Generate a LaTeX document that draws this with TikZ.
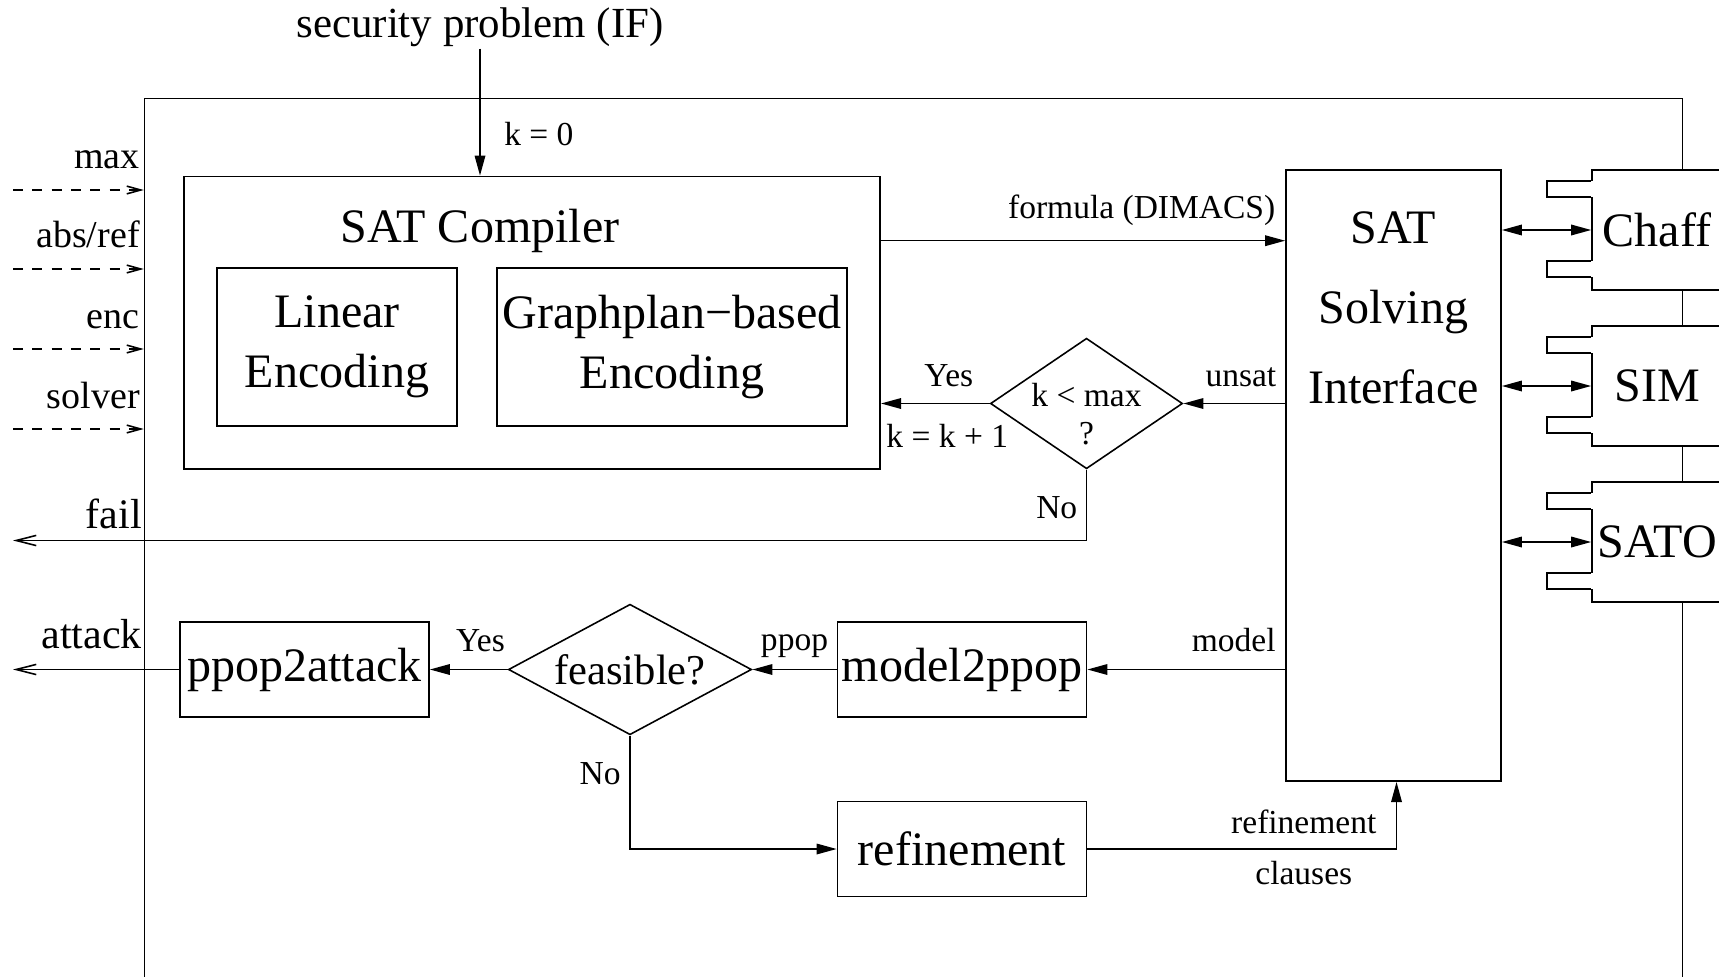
\documentclass[tikz,border=0pt]{standalone}
\usepackage{fontspec}
\setmainfont{Liberation Serif}
\usetikzlibrary{arrows.meta,shapes.geometric,positioning}
\newcommand{\fbig}{\fontsize{13.66pt}{17pt}\selectfont}
\newcommand{\fsec}{\fontsize{12.2pt}{14pt}\selectfont}
\newcommand{\fout}{\fontsize{11.95pt}{14pt}\selectfont}
\newcommand{\fin}{\fontsize{10.8pt}{13pt}\selectfont}
\newcommand{\fsmall}{\fontsize{9.53pt}{10.8pt}\selectfont}
\newcommand{\ffeas}{\fontsize{12.1pt}{14pt}\selectfont}

\begin{document}
\begin{tikzpicture}[
  x=0.01cm, y=-0.01cm,
  line width=0.45pt,
  >={Triangle[length=5.7pt,width=3pt]},
  block/.style={draw,rectangle,inner sep=1pt,font=\fbig,align=center},
  decision/.style={draw,diamond,inner sep=0pt},
  solverbox/.style={draw,fill=white,rectangle,minimum width=1.3cm,minimum height=1.2cm,font=\fbig,inner sep=0pt},
  lbl/.style={font=\fsmall,inner sep=1pt},
  inlbl/.style={font=\fin,inner sep=1pt,anchor=base east},
  outlbl/.style={font=\fout,inner sep=1pt,anchor=base east},
  inarrow/.style={dash pattern=on 2.8pt off 2.7pt,-{Straight Barb[length=4pt,width=2.2pt]}},
  outarrow/.style={-{Straight Barb[length=5.7pt,width=2.9pt]}}
]
  \useasboundingbox (0,0) rectangle (1719,976);
  % outer frame, open at the bottom
  \node[draw,minimum width=15.37cm,minimum height=10.01cm] (frame) at (913.5,599.5) {};

  % compiler part
  \node[font=\fsec,inner sep=.2pt] (secprob) at (480,27.5) {security problem (IF)};
  \node[block,minimum width=6.96cm,minimum height=2.925cm] (compiler) at (532,322.75) {};
  \node[font=\fbig,inner sep=0pt] (comptitle) at (480,231) {SAT Compiler};
  \node[block,minimum width=2.4cm,minimum height=1.575cm] (linear) at (337,347) {Linear\\Encoding};
  \node[block,minimum width=3.5cm,minimum height=1.575cm] (graphplan) at (672,347) {Graphplan−based\\Encoding};
  \draw[->] (secprob) -- node[lbl,pos=.67,right=2mm]{k = 0} (compiler.north -| secprob);

  % solver interface
  \node[block,minimum width=2.15cm,minimum height=6.11cm] (sat) at (1393.5,475.5) {};
  \node[font=\fbig,align=center,inner sep=0pt,below=4.15mm of sat.north] (sattext) {SAT\\[5.8pt]Solving\\[5.8pt]Interface};
  \draw[->] ([yshift=8.2mm]compiler.east) -- node[lbl,pos=.645,above=1.1mm]{formula (DIMACS)} ([yshift=8.2mm]compiler.east -| sat.west);

  \node[decision,aspect=1.47,inner sep=-3pt,minimum width=1.92cm,minimum height=1.305cm,font=\fsmall,align=center] (kmax) at (1086.5,403.5) {\rule{0pt}{12.7pt}k < max\\?};
  \draw[->] (sat.west |- kmax) -- node[lbl,pos=.435,above=1.2mm]{unsat} (kmax.east);
  \draw[->] (kmax.west) -- node[lbl,pos=.376,above=1.2mm]{Yes} node[lbl,pos=.39,below=1.65mm]{k = k + 1} (kmax.west -| compiler.east);

  \coordinate (failend) at (13,540.5);
  \draw[outarrow] (kmax.south) -- node[lbl,pos=.54,left=.5mm]{No} (kmax.south |- failend) -- (failend);
  \node[outlbl] (faillbl) at (146,528) {fail};

  % options coming in
  \foreach \yy/\lab [count=\i] in {190/max,269/{abs/ref},349/enc,429/solver}{
    \coordinate (in\i) at (13,\yy);
    \draw[inarrow] (in\i) -- (in\i -| frame.west);
    \node[inlbl] (inlbl\i) at (144,\yy-21) {\lab};
  }

  % model checking loop
  \node[block,minimum width=2.49cm,minimum height=0.95cm] (m2p) at (962,669.5) {model2ppop};
  \node[decision,aspect=1.87,minimum width=2.43cm,minimum height=1.305cm,font=\ffeas] (feasible) at (630,669.5) {feasible?};
  \node[block,minimum width=2.49cm,minimum height=0.95cm] (p2a) at (304.5,669.5) {ppop2attack};
  \node[block,minimum width=2.49cm,minimum height=0.95cm] (refine) at (962,849) {refinement};

  \draw[->] (sat.west |- m2p) -- node[lbl,pos=.26,above=1.3mm]{model} (m2p.east);
  \draw[->] (m2p.west) -- node[lbl,above=.8mm]{ppop} (feasible.east);
  \draw[->] (feasible.west) -- node[lbl,pos=.35,above=1.35mm]{Yes} (p2a.east);
  \draw[outarrow] (p2a.west) -- (p2a.west -| failend);
  \node[outlbl] (attacklbl) at (146,648) {attack};
  \draw[->] (feasible.south) -- node[lbl,pos=.335,left=.5mm]{No} (feasible.south |- refine) -- (refine.west);
  \draw[->] (refine.east) -- node[lbl,pos=.7,above=1.1mm]{refinement} node[lbl,pos=.7,below=.75mm]{clauses} ([xshift=.3mm]refine.east -| sat.south) -- ([xshift=.3mm]sat.south);

  % solvers
  \foreach \name/\yy in {Chaff/230,SIM/386,SATO/542}{
    \node[solverbox] (\name) at (1657,\yy) {\name};
    \foreach \ty in {12,92}{
      \fill[white] (\name.north west) ++(-44,\ty) rectangle ++(45.5,16);
      \draw (\name.north west) ++(0,\ty) -- ++(-44,0) -- ++(0,16) -- ++(44,0);
    }
    \draw[<->] (sat.east |- \name) -- (\name.west);
  }
\end{tikzpicture}
\end{document}
